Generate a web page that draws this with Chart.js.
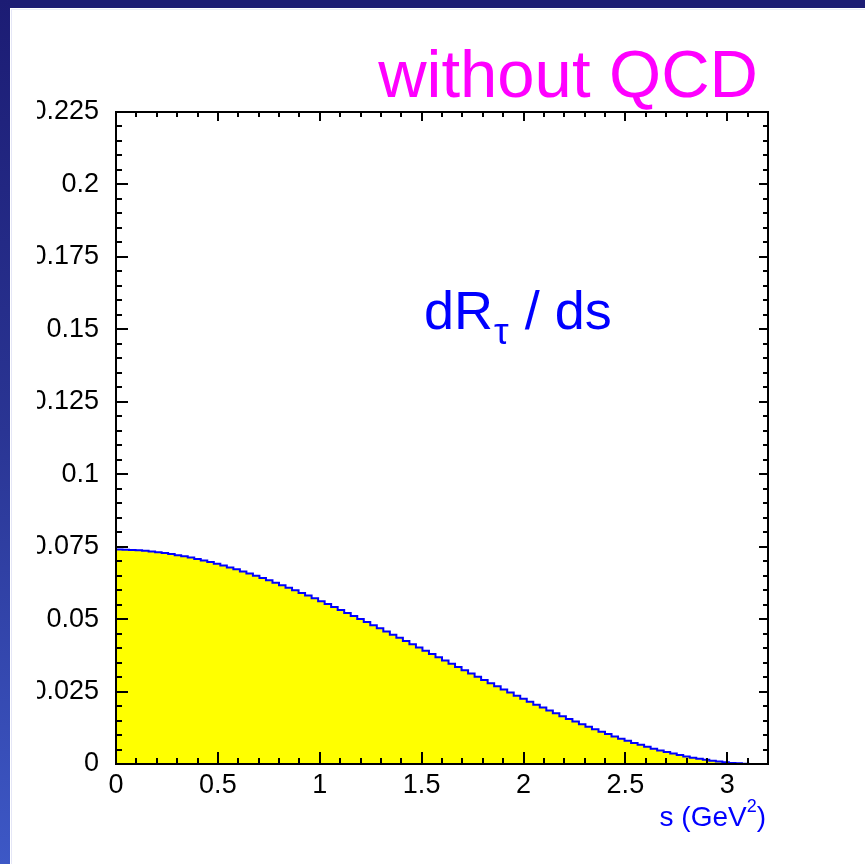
<!DOCTYPE html>
<html>

<head>
    <title>dR/ds without QCD</title>
    <script src="https://cdn.jsdelivr.net/npm/chart.js@4.4.1/dist/chart.umd.min.js"></script>
    <style>
        body { margin: 0; background: #ffffff; width: 865px; height: 864px; overflow: hidden; position: relative; }
        #topBand { position: absolute; left: 0; top: 0; width: 865px; height: 8px; background: #1c1c74; }
        #leftBand { position: absolute; left: 0; top: 0; width: 10px; height: 864px;
            background: linear-gradient(#1c1c74, #2a3594 50%, #3d58c6); }
        #edgeLine { position: absolute; left: 11px; top: 9px; width: 854px; height: 855px;
            border-left: 1px solid #e4e6f6; border-top: 1px solid #eceef8; }
        #plotBox { position: absolute; left: 37px; top: 0; width: 828px; height: 864px; }
    </style>
</head>

<body>
    <div id="topBand"></div>
    <div id="leftBand"></div>
    <div id="edgeLine"></div>
    <div id="plotBox"><canvas id="myChart"></canvas></div>

    <script>
        // histogram: 100 bins in s from 0 to 3.2 GeV^2
        var sMin = 0;
        var sMax = 3.2;
        var nBins = 100;
        var dRds = [
            0.07399, 0.07395, 0.07386, 0.07373, 0.07355, 0.07334, 0.07308, 0.07278, 0.07245, 0.07207,
            0.07166, 0.07122, 0.07074, 0.07022, 0.06967, 0.06909, 0.06848, 0.06784, 0.06717, 0.06647,
            0.06574, 0.06499, 0.06421, 0.06340, 0.06258, 0.06172, 0.06085, 0.05996, 0.05904, 0.05811,
            0.05716, 0.05619, 0.05520, 0.05420, 0.05318, 0.05215, 0.05111, 0.05005, 0.04899, 0.04791,
            0.04683, 0.04573, 0.04463, 0.04353, 0.04242, 0.04130, 0.04018, 0.03906, 0.03793, 0.03681,
            0.03568, 0.03456, 0.03344, 0.03232, 0.03120, 0.03009, 0.02899, 0.02789, 0.02680, 0.02572,
            0.02465, 0.02358, 0.02253, 0.02149, 0.02047, 0.01946, 0.01846, 0.01748, 0.01652, 0.01557,
            0.01464, 0.01374, 0.01285, 0.01198, 0.01114, 0.01032, 0.00952, 0.00875, 0.00801, 0.00729,
            0.00660, 0.00594, 0.00530, 0.00470, 0.00413, 0.00360, 0.00309, 0.00263, 0.00219, 0.00179,
            0.00143, 0.00111, 0.00083, 0.00059, 0.00038, 0.00022, 0.00010, 0.00003, 0, 0
        ];

        // axis ranges and tick spacing
        var yMin = 0;
        var yMax = 0.225;
        var xMajor = 0.5, xMinor = 0.1;
        var yMajor = 0.025, yMinor = 0.005;

        var titleText = 'without QCD';
        var xTitle = 's (GeV';
        var fontFamily = '"Liberation Sans", Arial, Helvetica, sans-serif';

        // bin low edges plus the closing edge, for a step-before line
        var binWidth = (sMax - sMin) / nBins;
        var points = dRds.map(function (v, i) { return { x: sMin + i * binWidth, y: v }; });
        points.push({ x: sMax, y: dRds[nBins - 1] });

        // plain labels: 0, 0.5, 1 ... and 0.025, 0.05 ...
        function plainLabel(value) {
            return String(parseFloat(Number(value).toFixed(3)));
        }

        // frame + inward ticks on all four sides, ROOT style
        var frameTicks = {
            id: 'frameTicks',
            afterDatasetsDraw: function (chart) {
                var ctx = chart.ctx, a = chart.chartArea;
                var xs = chart.scales.x, ys = chart.scales.y;
                ctx.save();
                ctx.strokeStyle = '#000000';
                ctx.lineWidth = 2;
                ctx.beginPath();
                var n, v, px, py, len;
                for (n = 0; sMin + n * xMinor <= sMax + 1e-9; n++) {
                    v = sMin + n * xMinor;
                    px = Math.round(xs.getPixelForValue(v));
                    len = (n % Math.round(xMajor / xMinor) === 0) ? 12 : 6;
                    ctx.moveTo(px, a.bottom); ctx.lineTo(px, a.bottom - len);
                    ctx.moveTo(px, a.top); ctx.lineTo(px, a.top + (len > 6 ? 9 : 5));
                }
                for (n = 0; yMin + n * yMinor <= yMax + 1e-9; n++) {
                    v = yMin + n * yMinor;
                    py = Math.round(ys.getPixelForValue(v));
                    len = (n % Math.round(yMajor / yMinor) === 0) ? 12 : 6;
                    ctx.moveTo(a.left, py); ctx.lineTo(a.left + len, py);
                    ctx.moveTo(a.right, py); ctx.lineTo(a.right - (len > 6 ? 9 : 5), py);
                }
                ctx.stroke();
                ctx.strokeRect(a.left, a.top, a.right - a.left, a.bottom - a.top);
                ctx.restore();
            },
            afterDraw: function (chart) {
                var ctx = chart.ctx, a = chart.chartArea;
                ctx.save();
                ctx.textBaseline = 'alphabetic';

                // title
                ctx.fillStyle = '#ff00ff';
                ctx.font = '67px ' + fontFamily;
                ctx.textAlign = 'right';
                ctx.fillText(titleText, a.right - 10, 97);

                // dR_tau / ds label
                ctx.fillStyle = '#0000ff';
                ctx.textAlign = 'left';
                var x0 = 387;
                ctx.font = '54px ' + fontFamily;
                ctx.fillText('dR', x0, 329);
                x0 += ctx.measureText('dR').width;
                ctx.font = '37px ' + fontFamily;
                ctx.fillText('\u03c4', x0 + 1, 344);
                x0 += ctx.measureText('\u03c4').width + 2;
                ctx.font = '54px ' + fontFamily;
                ctx.fillText(' / ds', x0, 329);

                // x axis title with superscript 2
                ctx.textAlign = 'left';
                ctx.font = '28px ' + fontFamily;
                var wMain = ctx.measureText(xTitle).width;
                var wClose = ctx.measureText(')').width;
                ctx.font = '18px ' + fontFamily;
                var wSup = ctx.measureText('2').width;
                var xs0 = a.right - 2 - wClose - wSup - wMain;
                ctx.font = '28px ' + fontFamily;
                ctx.fillText(xTitle, xs0, 826);
                ctx.font = '18px ' + fontFamily;
                ctx.fillText('2', xs0 + wMain, 812);
                ctx.font = '28px ' + fontFamily;
                ctx.fillText(')', xs0 + wMain + wSup, 826);
                ctx.restore();
            }
        };

        var ctx = document.getElementById('myChart');

        new Chart(ctx, {
            type: 'line',
            data: {
                datasets: [{
                    data: points,
                    stepped: true,
                    borderColor: '#0000ff',
                    borderWidth: 2,
                    backgroundColor: '#ffff00',
                    fill: 'origin',
                    pointRadius: 0,
                    tension: 0
                }]
            },
            options: {
                responsive: true,
                maintainAspectRatio: false,
                animation: false,
                layout: { padding: { top: 112, right: 97, left: 0, bottom: 0 } },
                plugins: {
                    legend: { display: false },
                    tooltip: { enabled: false }
                },
                scales: {
                    x: {
                        type: 'linear',
                        min: sMin,
                        max: sMax,
                        grid: { display: false },
                        border: { display: false },
                        afterFit: function (scale) { scale.height = 100; },
                        ticks: {
                            stepSize: xMajor,
                            includeBounds: false,
                            maxRotation: 0,
                            autoSkip: false,
                            padding: -3,
                            color: '#000000',
                            font: { family: fontFamily, size: 27 },
                            callback: plainLabel
                        }
                    },
                    y: {
                        type: 'linear',
                        min: yMin,
                        max: yMax,
                        grid: { display: false },
                        border: { display: false },
                        afterFit: function (scale) { scale.width = 79; },
                        ticks: {
                            stepSize: yMajor,
                            includeBounds: false,
                            autoSkip: false,
                            padding: 9,
                            color: '#000000',
                            font: { family: fontFamily, size: 27 },
                            callback: plainLabel
                        }
                    }
                }
            },
            plugins: [frameTicks]
        });
    </script>
</body>

</html>
